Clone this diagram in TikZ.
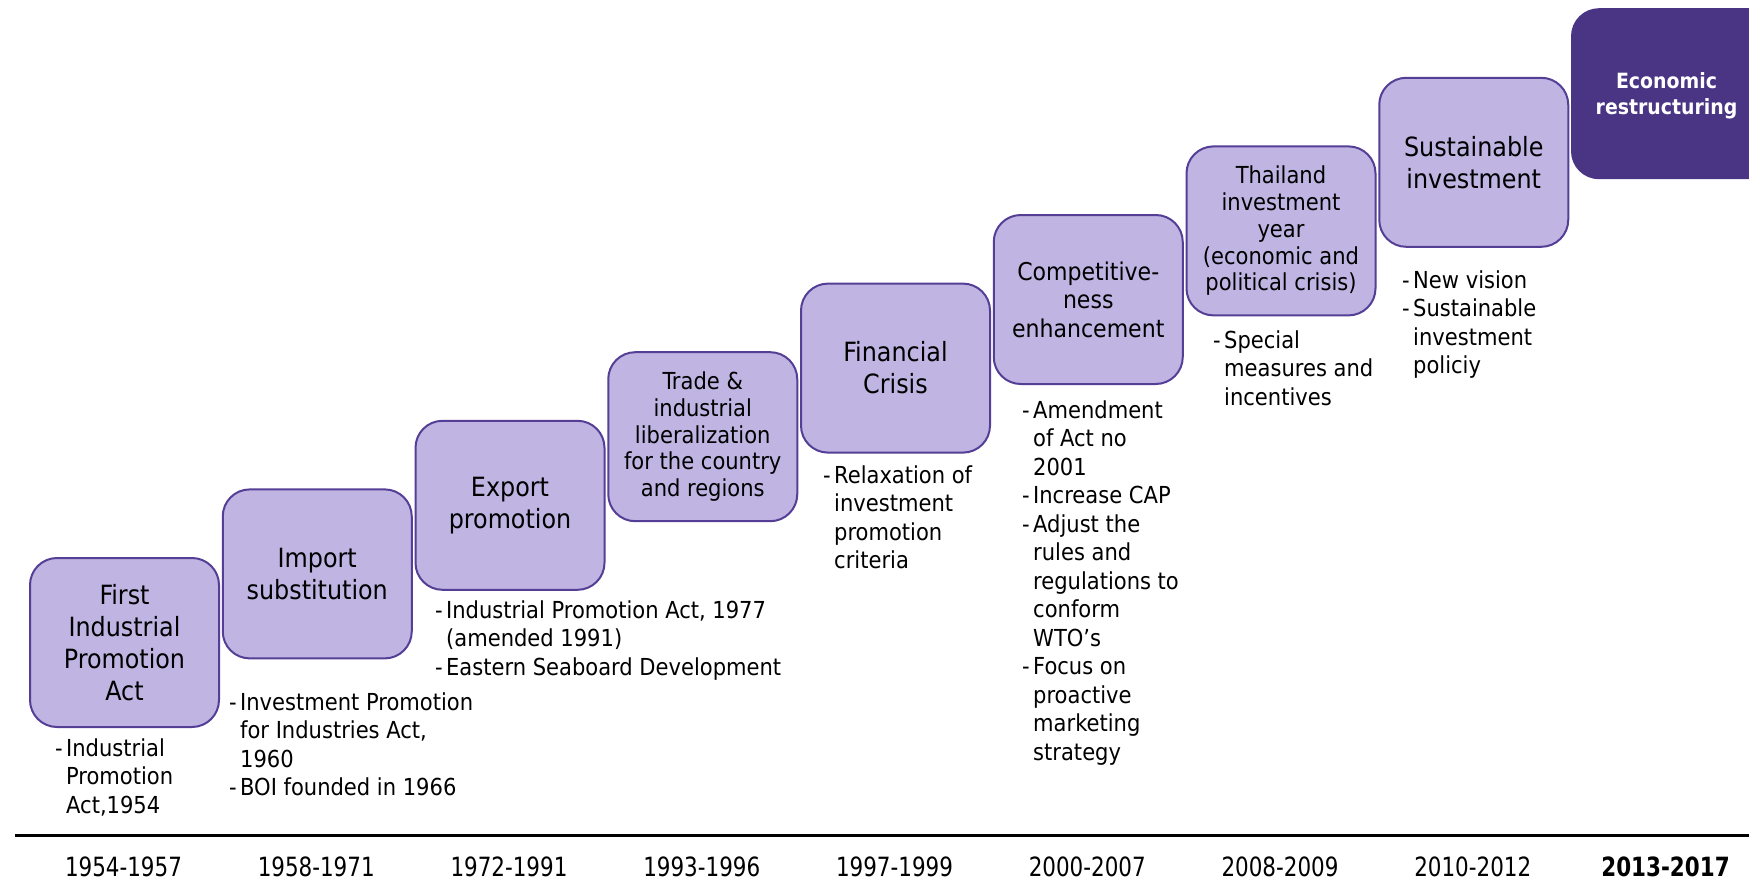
\documentclass[tikz,border=0pt]{standalone}
\usepackage{fontspec}
\setmainfont{DejaVu Sans Condensed}
\newfontfamily\yearfont{DejaVu Sans Condensed}[FakeStretch=0.9]

\definecolor{stagefill}{RGB}{191,180,226}
\definecolor{stageline}{RGB}{84,62,150}
\definecolor{stagedark}{RGB}{74,52,132}

% bullet lists under the stages: a dash column and a text column
\newcommand{\dsh}{\makebox[11pt][l]{-}}
\newcommand{\desclist}[1]{\begin{tabular}[t]{@{}l@{}l@{}}#1\end{tabular}}

\begin{document}
\begin{tikzpicture}[x=1pt,y=-1pt,
  stagebox/.style={draw=stageline, line width=2pt, fill=stagefill,
    rounded corners=27pt, minimum width=189pt, minimum height=169pt,
    inner sep=0pt, anchor=north west, align=center},
  bigtxt/.style={font=\fontsize{26.5}{32}\selectfont},
  midtxt/.style={font=\fontsize{23.4}{26.8}\selectfont},
  desctxt/.style={font=\fontsize{23.4}{28.5}\selectfont, anchor=base west, inner sep=0pt},
  yeartxt/.style={font=\yearfont\fontsize{26.5}{30}\selectfont, anchor=base, inner sep=0pt}
]
\useasboundingbox (0,0) rectangle (1749,883);
\clip (0,0) rectangle (1749,883);

% staircase of stages
\node[stagebox, bigtxt] (b1) at (29,557)      {First\\Industrial\\Promotion\\Act};
\node[stagebox, bigtxt] (b2) at (221.75,488.4) {Import\\substitution};
\node[stagebox, bigtxt] (b3) at (414.5,419.8)  {Export\\promotion};
\node[stagebox, midtxt] (b4) at (607.25,351.2) {Trade \&\\industrial\\liberalization\\for the country\\and regions};
\node[stagebox, bigtxt] (b5) at (800,282.6)    {Financial\\Crisis};
\node[stagebox, font=\fontsize{24.5}{28.5}\selectfont] (b6) at (992.75,214) {Competitive-\\ness\\enhancement};
\node[stagebox, midtxt] (b7) at (1185.5,145.4) {Thailand\\investment\\year\\(economic and\\political crisis)};
\node[stagebox, bigtxt] (b8) at (1378.25,76.8) {Sustainable\\investment};
\node[stagebox, fill=stagedark, draw=stagedark, text=white,
      font=\bfseries\fontsize{21}{25.7}\selectfont] (b9) at (1571,8.2)
      {\parbox{189pt}{\centering\vspace*{4pt}Economic\\restructuring}\hspace*{40pt}};

% measures taken in each period
\node[desctxt] (d1) at (55,756) {\desclist{\dsh & Industrial\\ & Promotion\\ & Act,1954}};
\node[desctxt] (d2) at (229,710) {\desclist{\dsh & Investment Promotion\\ & for Industries Act,\\ & 1960\\ \dsh & BOI founded in 1966}};
\node[desctxt] (d3) at (435,618) {\desclist{\dsh & Industrial Promotion Act, 1977\\ & (amended 1991)\\ \dsh & Eastern Seaboard Development}};
\node[desctxt] (d5) at (823,483) {\desclist{\dsh & Relaxation of\\ & investment\\ & promotion\\ & criteria}};
\node[desctxt] (d6) at (1022,418) {\desclist{\dsh & Amendment\\ & of Act no\\ & 2001\\ \dsh & Increase CAP\\ \dsh & Adjust the\\ & rules and\\ & regulations to\\ & conform\\ & WTO’s\\ \dsh & Focus on\\ & proactive\\ & marketing\\ & strategy}};
\node[desctxt] (d7) at (1213,348) {\desclist{\dsh & Special\\ & measures and\\ & incentives}};
\node[desctxt] (d8) at (1402,288) {\desclist{\dsh & New vision\\ \dsh & Sustainable\\ & investment\\ & policiy}};

% time axis
\coordinate (axl) at (15,835);
\coordinate (axr) at (1749,835);
\draw[line width=3pt] (axl) -- (axr);

\foreach \i/\yr in {0/1954-1957,1/1958-1971,2/1972-1991,3/1993-1996,4/1997-1999,5/2000-2007,6/2008-2009,7/2010-2012}
  \node[yeartxt] (y\i) at (123.5+192.75*\i,876) {\yr};
\node[yeartxt, font=\yearfont\bfseries\fontsize{26.5}{30}\selectfont] (y8) at (1665.5,876) {2013-2017};
\end{tikzpicture}
\end{document}
